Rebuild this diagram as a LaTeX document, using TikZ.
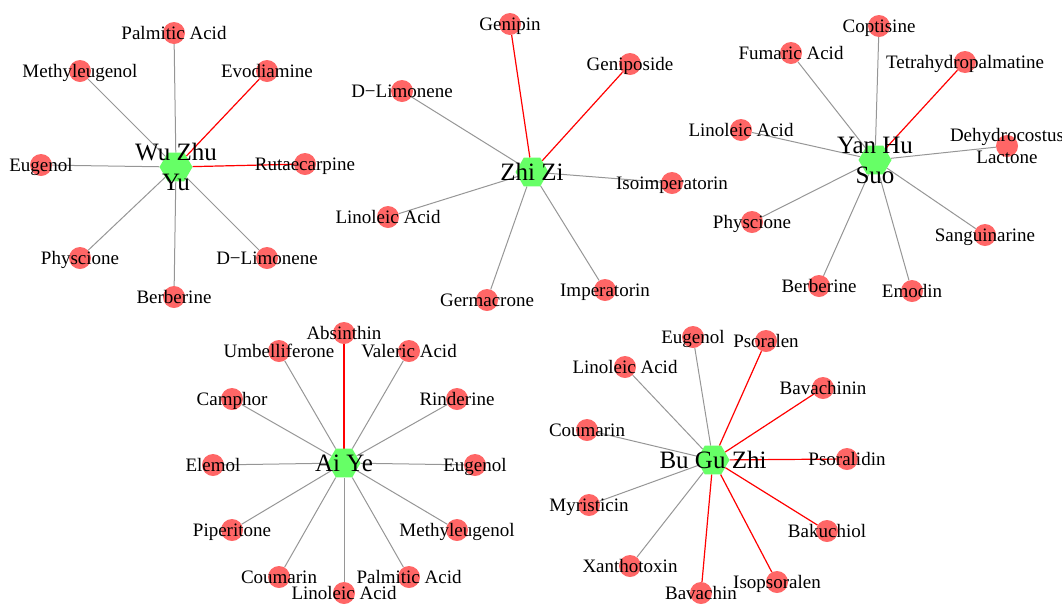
\documentclass[tikz,border=0pt]{standalone}
\usepackage{fontspec}
\setmainfont{Liberation Serif}
\usetikzlibrary{shapes.geometric}
\usetikzlibrary{backgrounds}
\definecolor{cg}{RGB}{102, 255, 102}
\definecolor{cr}{RGB}{255, 102, 102}
\definecolor{ce}{RGB}{150, 150, 150}

\begin{document}
\begin{tikzpicture}[
herb/.style={regular polygon, regular polygon sides=6, minimum size=33pt, inner sep=0pt, fill=cg, draw=none},
herblbl/.style={font=\fontsize{25}{30}\selectfont, align=center, inner sep=0pt},
herbline/.style={font=\fontsize{25}{30}\selectfont, inner sep=0pt, text height=17pt, text depth=0pt},
comp/.style={circle, minimum size=22pt, inner sep=0pt, fill=cr, draw=none},
complbl/.style={font=\fontsize{19}{22}\selectfont, inner sep=0pt, text height=13pt, text depth=0pt},
comptwo/.style={font=\fontsize{19}{22}\selectfont, align=center, inner sep=0pt},
link/.style={line width=1pt, color=ce},
keylink/.style={line width=1.2pt, color=red}]
\useasboundingbox (0pt, 0pt) rectangle (1062pt, -606pt);
% Wu Zhu Yu
\node (1) [herb, label={[herblbl]center:Wu Zhu\\Yu}] at (176pt, -167pt) {};
\node (101) [comp, label={[complbl]center:Palmitic Acid}] at (174pt, -33pt) {};
\node (102) [comp, label={[complbl]center:Methyleugenol}] at (80pt, -71pt) {};
\node (103) [comp, label={[complbl]center:Evodiamine}] at (267pt, -71pt) {};
\node (104) [comp, label={[complbl]center:Eugenol}] at (41pt, -165pt) {};
\node (105) [comp, label={[complbl]center:Rutaecarpine}] at (305pt, -164pt) {};
\node (106) [comp, label={[complbl]center:Physcione}] at (80pt, -258pt) {};
\node (107) [comp, label={[complbl]center:D−Limonene}] at (267pt, -258pt) {};
\node (108) [comp, label={[complbl]center:Berberine}] at (174pt, -297pt) {};
% Zhi Zi
\node (2) [herb, label={[herbline]center:Zhi Zi}] at (532pt, -172pt) {};
\node (201) [comp, label={[complbl]center:Genipin}] at (510pt, -24pt) {};
\node (202) [comp, label={[complbl]center:Geniposide}] at (630pt, -64pt) {};
\node (203) [comp, label={[complbl]center:D−Limonene}] at (402pt, -91pt) {};
\node (204) [comp, label={[complbl]center:Isoimperatorin}] at (672pt, -183pt) {};
\node (205) [comp, label={[complbl]center:Linoleic Acid}] at (388pt, -217pt) {};
\node (206) [comp, label={[complbl]center:Germacrone}] at (487pt, -300pt) {};
\node (207) [comp, label={[complbl]center:Imperatorin}] at (605pt, -290pt) {};
% Yan Hu Suo
\node (3) [herb, label={[herblbl]center:Yan Hu\\Suo}] at (875pt, -160pt) {};
\node (301) [comp, label={[complbl]center:Coptisine}] at (879pt, -26pt) {};
\node (302) [comp, label={[complbl]center:Fumaric Acid}] at (791pt, -53pt) {};
\node (303) [comp, label={[complbl]center:Tetrahydropalmatine}] at (965pt, -62pt) {};
\node (304) [comp, label={[complbl]center:Linoleic Acid}] at (741pt, -130pt) {};
\node (305) [comp, label={[comptwo]center:Dehydrocostus\\Lactone}] at (1007pt, -146pt) {};
\node (306) [comp, label={[complbl]center:Physcione}] at (752pt, -222pt) {};
\node (307) [comp, label={[complbl]center:Sanguinarine}] at (985pt, -235pt) {};
\node (308) [comp, label={[complbl]center:Berberine}] at (819pt, -286pt) {};
\node (309) [comp, label={[complbl]center:Emodin}] at (912pt, -291pt) {};
% Ai Ye
\node (4) [herb, label={[herbline]center:Ai Ye}] at (344pt, -463pt) {};
\node (401) [comp, label={[complbl]center:Absinthin}] at (344pt, -333pt) {};
\node (402) [comp, label={[complbl]center:Umbelliferone}] at (279pt, -351pt) {};
\node (403) [comp, label={[complbl]center:Valeric Acid}] at (409pt, -351pt) {};
\node (404) [comp, label={[complbl]center:Camphor}] at (232pt, -399pt) {};
\node (405) [comp, label={[complbl]center:Rinderine}] at (457pt, -399pt) {};
\node (406) [comp, label={[complbl]center:Elemol}] at (213pt, -465pt) {};
\node (407) [comp, label={[complbl]center:Eugenol}] at (475pt, -465pt) {};
\node (408) [comp, label={[complbl]center:Piperitone}] at (232pt, -530pt) {};
\node (409) [comp, label={[complbl]center:Methyleugenol}] at (457pt, -530pt) {};
\node (410) [comp, label={[complbl]center:Coumarin}] at (279pt, -577pt) {};
\node (411) [comp, label={[complbl]center:Palmitic Acid}] at (409pt, -577pt) {};
\node (412) [comp, label={[complbl]center:Linoleic Acid}] at (344pt, -593pt) {};
% Bu Gu Zhi
\node (5) [herb, label={[herbline]center:Bu Gu Zhi}] at (713pt, -460pt) {};
\node (501) [comp, label={[complbl]center:Eugenol}] at (693pt, -337pt) {};
\node (502) [comp, label={[complbl]center:Psoralen}] at (766pt, -341pt) {};
\node (503) [comp, label={[complbl]center:Linoleic Acid}] at (625pt, -367pt) {};
\node (504) [comp, label={[complbl]center:Bavachinin}] at (823pt, -388pt) {};
\node (505) [comp, label={[complbl]center:Coumarin}] at (587pt, -430pt) {};
\node (506) [comp, label={[complbl]center:Psoralidin}] at (847pt, -459pt) {};
\node (507) [comp, label={[complbl]center:Myristicin}] at (589pt, -505pt) {};
\node (508) [comp, label={[complbl]center:Bakuchiol}] at (827pt, -531pt) {};
\node (509) [comp, label={[complbl]center:Xanthotoxin}] at (630pt, -566pt) {};
\node (510) [comp, label={[complbl]center:Isopsoralen}] at (777pt, -582pt) {};
\node (511) [comp, label={[complbl]center:Bavachin}] at (701pt, -593pt) {};
\begin{pgfonlayer}{background}
\draw [link] (1) to (101);
\draw [link] (1) to (102);
\draw [keylink] (1) to (103);
\draw [link] (1) to (104);
\draw [keylink] (1) to (105);
\draw [link] (1) to (106);
\draw [link] (1) to (107);
\draw [link] (1) to (108);
\draw [keylink] (2) to (201);
\draw [keylink] (2) to (202);
\draw [link] (2) to (203);
\draw [link] (2) to (204);
\draw [link] (2) to (205);
\draw [link] (2) to (206);
\draw [link] (2) to (207);
\draw [link] (3) to (301);
\draw [link] (3) to (302);
\draw [keylink] (3) to (303);
\draw [link] (3) to (304);
\draw [link] (3) to (305);
\draw [link] (3) to (306);
\draw [link] (3) to (307);
\draw [link] (3) to (308);
\draw [link] (3) to (309);
\draw [keylink] (4) to (401);
\draw [link] (4) to (402);
\draw [link] (4) to (403);
\draw [link] (4) to (404);
\draw [link] (4) to (405);
\draw [link] (4) to (406);
\draw [link] (4) to (407);
\draw [link] (4) to (408);
\draw [link] (4) to (409);
\draw [link] (4) to (410);
\draw [link] (4) to (411);
\draw [link] (4) to (412);
\draw [link] (5) to (501);
\draw [keylink] (5) to (502);
\draw [link] (5) to (503);
\draw [keylink] (5) to (504);
\draw [link] (5) to (505);
\draw [keylink] (5) to (506);
\draw [link] (5) to (507);
\draw [keylink] (5) to (508);
\draw [link] (5) to (509);
\draw [keylink] (5) to (510);
\draw [keylink] (5) to (511);
\end{pgfonlayer}
\end{tikzpicture}
\end{document}
